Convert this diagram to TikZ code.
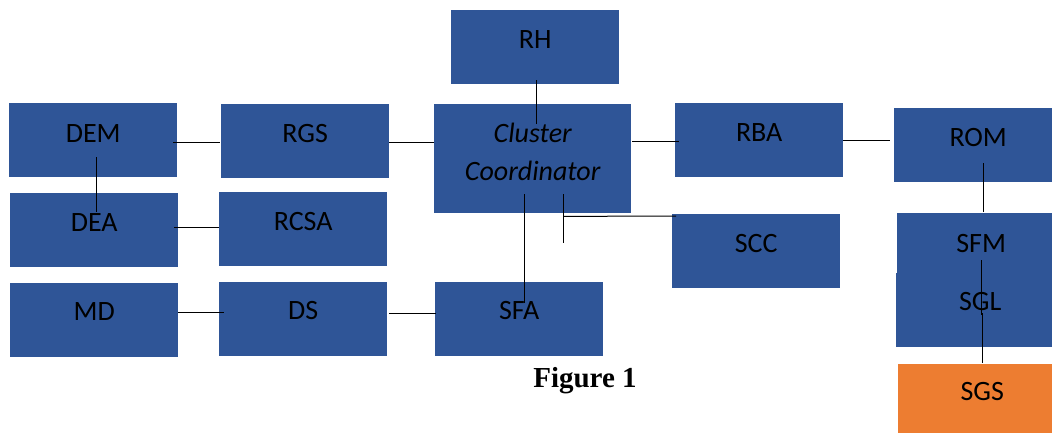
\documentclass[tikz,border=0pt]{standalone}
\usepackage{fontspec}
\newfontfamily\boxfont{Carlito}
\newfontfamily\capfont{Liberation Serif}
\definecolor{boxblue}{HTML}{2F5597}
\definecolor{boxorange}{HTML}{ED7D31}
\tikzset{
  unit/.style={draw=none, fill=boxblue, inner sep=0pt, minimum width=168pt, minimum height=74pt, anchor=north west},
  hub/.style={unit, minimum width=197pt, minimum height=109pt},
  warm/.style={unit, fill=boxorange},
  lbl/.style={anchor=base, inner sep=0pt, font=\boxfont\fontsize{28}{34}\selectfont, text=black},
  link/.style={draw=black, line width=1pt},
}
\begin{document}
\begin{tikzpicture}[x=1pt, y=-1pt]
\useasboundingbox (0,0) rectangle (1052,432);
\clip (0,0) rectangle (1052,432);

% boxes
\node[unit] (rh)   at (451,10)  {};
\node[unit] (dem)  at (9,103)   {};
\node[unit] (rgs)  at (221,104) {};
\node[hub]  (cc)   at (434,104) {};
\node[unit] (rba)  at (675,103) {};
\node[unit] (rom)  at (894,108) {};
\node[unit] (dea)  at (10,193)  {};
\node[unit] (rcsa) at (219,192) {};
\node[unit] (scc)  at (672,214) {};
\node[unit] (sfm)  at (897,213) {};
\node[unit] (sgl)  at (896,273) {};
\node[warm] (sgs)  at (898,364) {};
\node[unit] (md)   at (10,283)  {};
\node[unit] (ds)   at (219,282) {};
\node[unit] (sfa)  at (435,282) {};

% labels, set near the top of each box
\node[lbl] (rhT)   at ([shift={(0,38)}]rh.north)   {RH};
\node[lbl] (demT)  at ([shift={(0,39)}]dem.north)  {DEM};
\node[lbl] (rgsT)  at ([shift={(0,38)}]rgs.north)  {RGS};
\node[lbl, font=\boxfont\itshape\fontsize{28}{34}\selectfont] (ccT1) at ([shift={(0,38)}]cc.north) {Cluster};
\node[lbl, font=\boxfont\itshape\fontsize{28}{34}\selectfont] (ccT2) at ([shift={(0,76)}]cc.north) {Coordinator};
\node[lbl] (rbaT)  at ([shift={(0,38)}]rba.north)  {RBA};
\node[lbl] (romT)  at ([shift={(0,38)}]rom.north)  {ROM};
\node[lbl] (deaT)  at ([shift={(0,38)}]dea.north)  {DEA};
\node[lbl] (rcsaT) at ([shift={(0,38)}]rcsa.north) {RCSA};
\node[lbl] (sccT)  at ([shift={(0,38)}]scc.north)  {SCC};
\node[lbl] (sfmT)  at ([shift={(0,39)}]sfm.north)  {SFM};
\node[lbl] (sglT)  at ([shift={(0,37)}]sgl.north)  {SGL};
\node[lbl] (sgsT)  at ([shift={(0,36)}]sgs.north)  {SGS};
\node[lbl] (mdT)   at ([shift={(0,37)}]md.north)   {MD};
\node[lbl] (dsT)   at ([shift={(0,37)}]ds.north)   {DS};
\node[lbl] (sfaT)  at ([shift={(0,37)}]sfa.north)  {SFA};

% caption
\node[anchor=base, inner sep=0pt, font=\capfont\bfseries\fontsize{29}{34}\selectfont] (cap) at (585,387) {Figure 1};

% connectors
\draw[link] ([shift={(-4,2)}]dem.east) -- ([shift={(-1,2)}]dem.east -| rgs.west);
\draw[link] ([shift={(0,1)}]rgs.east) -- ([shift={(0,1)}]rgs.east -| cc.west);
\draw[link] ([shift={(3,-20)}]dem.south) -- ([shift={(2,19)}]dea.north);
\draw[link] ([shift={(-4,-3)}]dea.east) -- ([shift={(0,-3)}]dea.east -| rcsa.west);
\draw[link] ([shift={(1,-4)}]rh.south) -- ([shift={(3.5,20)}]cc.north);
\draw[link] ([shift={(1,-17.5)}]cc.east) -- ([shift={(4,1)}]rba.west);
\draw[link] (rba.east) -- ([shift={(-4,-5)}]rom.west);
\draw[link] ([shift={(5,-19)}]rom.south) -- ([shift={(2,-1)}]sfm.north);
\draw[link] ([shift={(0,8)}]sfmT.base) -- ([shift={(1,5)}]sglT.base);
\draw[link] ([shift={(2,3)}]sglT.base) -- ([shift={(0,-1)}]sgs.north);
\draw[link] ([shift={(-8.5,-19)}]cc.south) -- ([shift={(5,21)}]sfa.north);
\draw[link] ([shift={(30.5,-19)}]cc.south) -- ([shift={(30.5,30)}]cc.south);
\draw[link] ([shift={(30.5,3)}]cc.south) -- ([shift={(4,2)}]scc.north west);
\draw[link] ([shift={(0,-8)}]md.east) -- ([shift={(5,-7)}]ds.west);
\draw[link] ([shift={(2,-6)}]ds.east) -- ([shift={(1,-6)}]ds.east -| sfa.west);
\end{tikzpicture}
\end{document}
